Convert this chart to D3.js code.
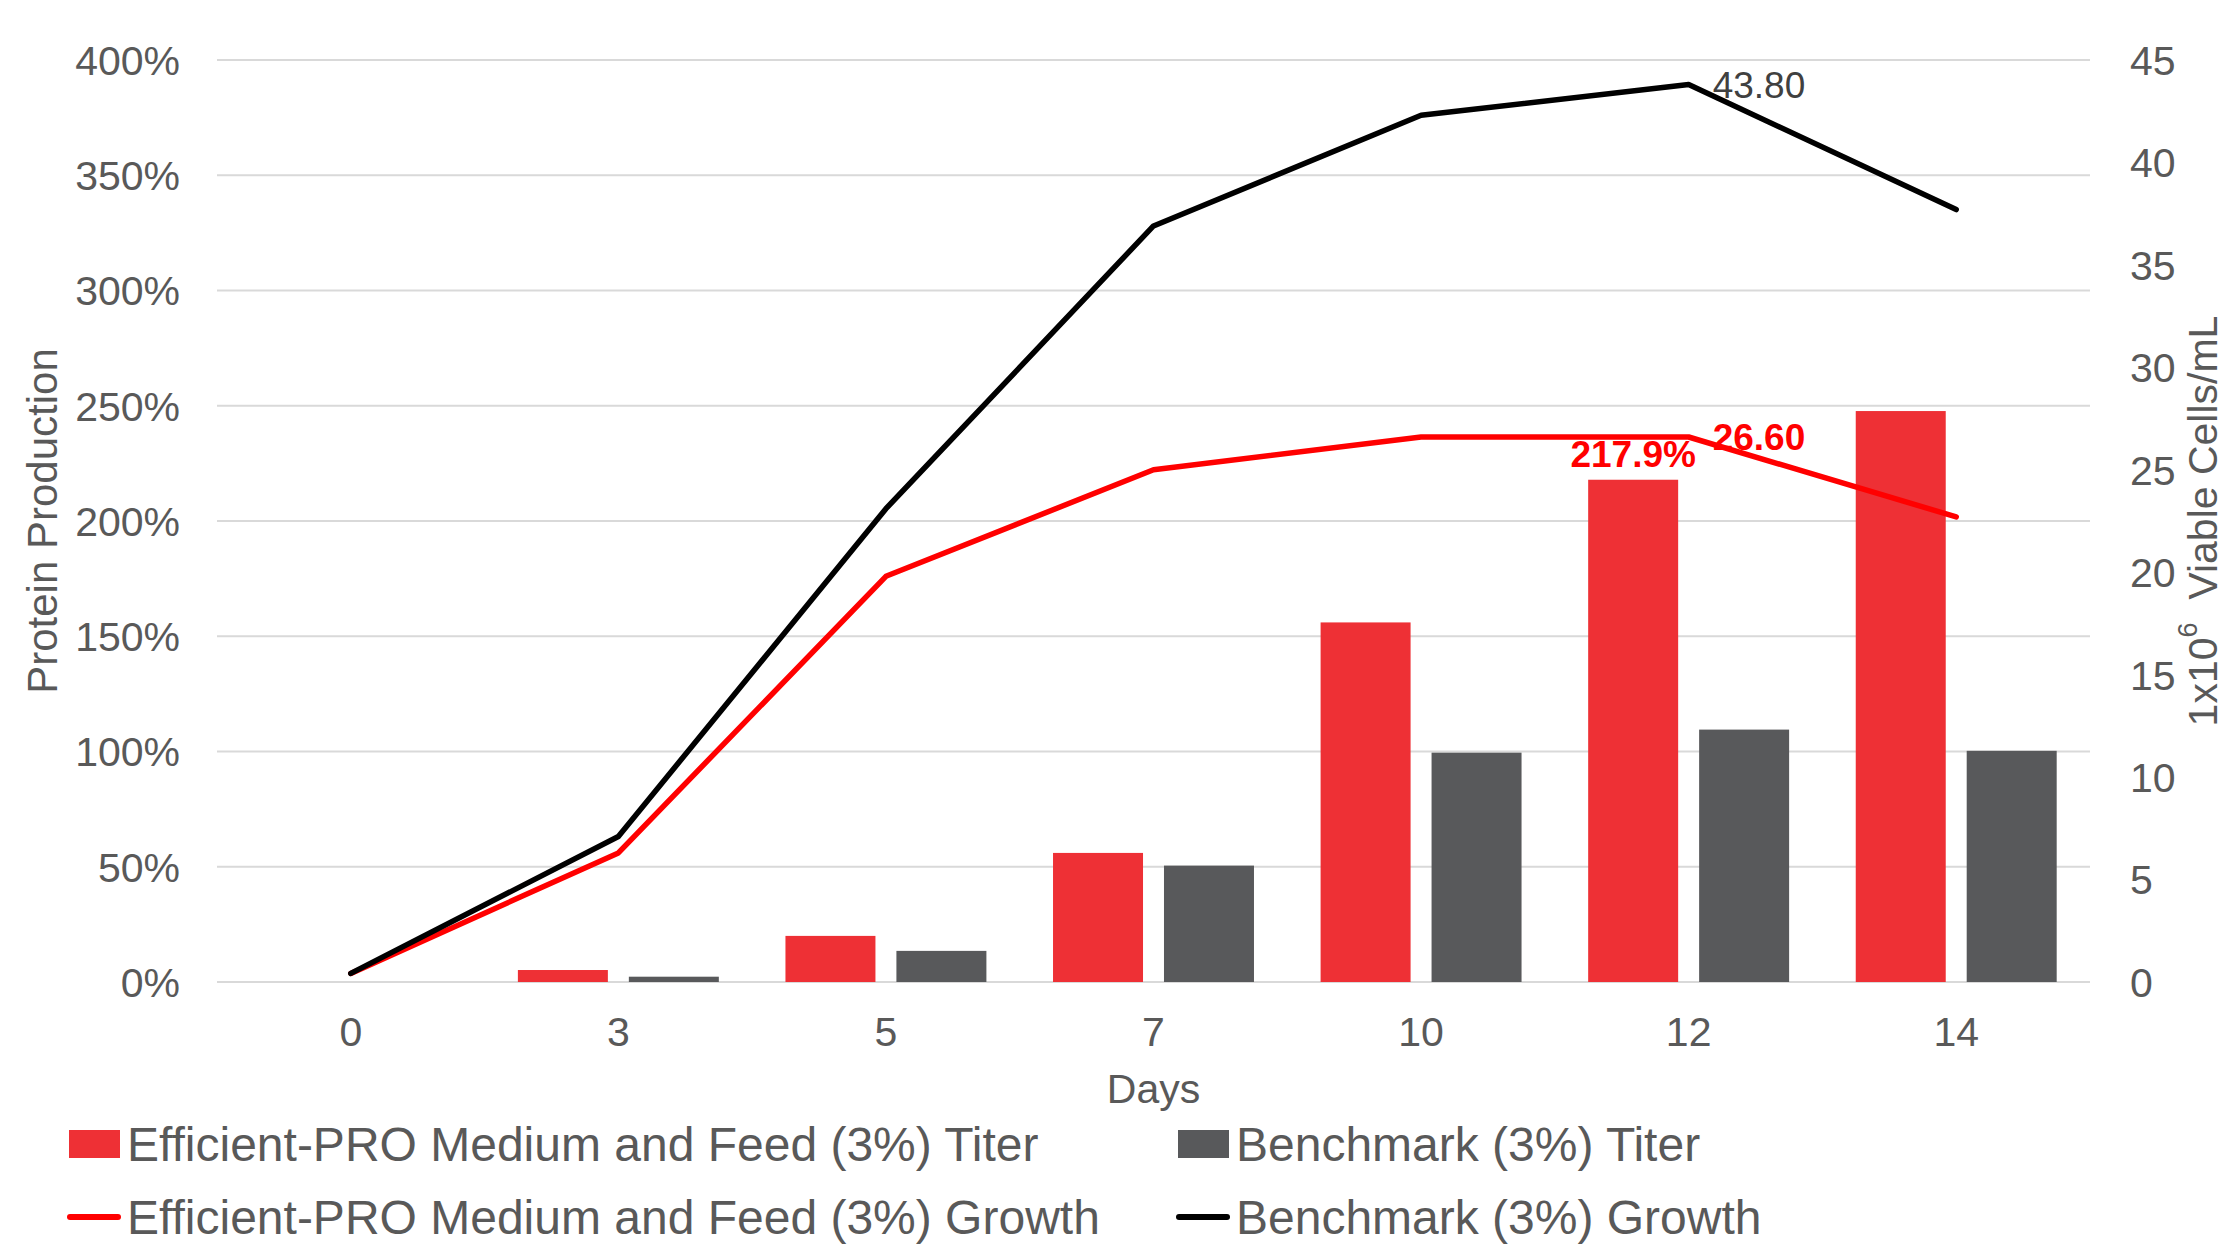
<!DOCTYPE html>
<html>
<head>
<meta charset="utf-8">
<script src="https://cdn.jsdelivr.net/npm/d3@7"></script>
<style>
  html, body { margin: 0; padding: 0; background: #fff; }
  svg text { font-family: "Liberation Sans", Arial, sans-serif; }
</style>
</head>
<body>
<svg id="chart" width="2226" height="1248"></svg>
<script>
// Culture days on the x axis
const days = ["0", "3", "5", "7", "10", "12", "14"];

// Protein titer, relative to benchmark (fraction, shown as %)
const titerEfficient = [null, 0.052, 0.20, 0.56, 1.56, 2.179, 2.477];
const titerBenchmark = [null, 0.023, 0.135, 0.505, 0.995, 1.095, 1.003];

// Viable cell density, 1x10^6 cells/mL
const growthEfficient = [0.42, 6.3, 19.8, 25.0, 26.6, 26.6, 22.7];
const growthBenchmark = [0.42, 7.1, 23.1, 36.9, 42.3, 43.8, 37.7];

// Axis ticks
const leftTicks = [0, 0.5, 1, 1.5, 2, 2.5, 3, 3.5, 4];
const rightTicks = [0, 5, 10, 15, 20, 25, 30, 35, 40, 45];

// Series names
const seriesNames = {
  titerEff: "Efficient-PRO Medium and Feed (3%) Titer",
  titerBench: "Benchmark (3%) Titer",
  growthEff: "Efficient-PRO Medium and Feed (3%) Growth",
  growthBench: "Benchmark (3%) Growth"
};

const colors = {
  barRed: "#EE3035",
  barGray: "#58595B",
  lineRed: "#FF0000",
  lineBlack: "#000000",
  grid: "#D9D9D9",
  text: "#595959",
  label: "#404040"
};

const plot = { left: 217, right: 2090, top: 60, bottom: 982 };
const svg = d3.select("#chart");

const x = d3.scaleBand().domain(days).range([plot.left, plot.right]).padding(0);
const yLeft = d3.scaleLinear().domain([0, 4]).range([plot.bottom, plot.top]);
const yRight = d3.scaleLinear().domain([0, 45]).range([plot.bottom, plot.top]);

// Two bars per day, centred in each band
const groupWidth = x.bandwidth() * 0.751;
const xInner = d3.scaleBand()
  .domain(["eff", "bench"])
  .range([-groupWidth / 2, groupWidth / 2])
  .paddingInner(0.189)
  .paddingOuter(0);

// Horizontal gridlines
svg.append("g")
  .selectAll("line")
  .data(leftTicks)
  .join("line")
  .attr("x1", plot.left)
  .attr("x2", plot.right)
  .attr("y1", d => yLeft(d))
  .attr("y2", d => yLeft(d))
  .attr("stroke", colors.grid)
  .attr("stroke-width", 2);

// Left axis
const leftAxis = svg.append("g")
  .attr("transform", `translate(${plot.left - 37},0)`)
  .call(d3.axisLeft(yLeft).tickValues(leftTicks).tickSize(0).tickPadding(0)
    .tickFormat(d => d3.format(".0%")(d)));
leftAxis.select(".domain").remove();
leftAxis.selectAll("text")
  .attr("fill", colors.text)
  .attr("font-size", 41)
  .attr("dy", "0.35em");

// Right axis
const rightAxis = svg.append("g")
  .attr("transform", `translate(${plot.right + 40},0)`)
  .call(d3.axisRight(yRight).tickValues(rightTicks).tickSize(0).tickPadding(0));
rightAxis.select(".domain").remove();
rightAxis.selectAll("text")
  .attr("fill", colors.text)
  .attr("font-size", 41)
  .attr("dy", "0.35em");

// Bottom axis (labels only)
const bottomAxis = svg.append("g")
  .attr("transform", `translate(0,${plot.bottom})`)
  .call(d3.axisBottom(x).tickSize(0).tickPadding(0));
bottomAxis.select(".domain").remove();
bottomAxis.selectAll("text")
  .attr("fill", colors.text)
  .attr("font-size", 41)
  .attr("y", 50)
  .attr("dy", "0.35em");

// Axis titles
svg.append("text")
  .attr("transform", `translate(42,${(plot.top + plot.bottom) / 2}) rotate(-90)`)
  .attr("text-anchor", "middle")
  .attr("dy", "0.35em")
  .attr("font-size", 42)
  .attr("fill", colors.text)
  .text("Protein Production");

const rTitle = svg.append("text")
  .attr("transform", `translate(2203,${(plot.top + plot.bottom) / 2}) rotate(-90)`)
  .attr("text-anchor", "middle")
  .attr("dy", "0.35em")
  .attr("font-size", 41)
  .attr("fill", colors.text);
rTitle.append("tspan").text("1x10");
rTitle.append("tspan").attr("font-size", 27).attr("dy", "-0.75em").text("6");
rTitle.append("tspan").attr("dy", "0.48em").text("\u00A0 Viable Cells/mL");

svg.append("text")
  .attr("x", (plot.left + plot.right) / 2)
  .attr("y", 1089)
  .attr("text-anchor", "middle")
  .attr("dy", "0.35em")
  .attr("font-size", 41)
  .attr("fill", colors.text)
  .text("Days");

// Titer bars
const barData = [];
days.forEach((d, i) => {
  if (titerEfficient[i] != null) barData.push({ day: d, key: "eff", v: titerEfficient[i], color: colors.barRed });
  if (titerBenchmark[i] != null) barData.push({ day: d, key: "bench", v: titerBenchmark[i], color: colors.barGray });
});

svg.append("g")
  .selectAll("rect")
  .data(barData)
  .join("rect")
  .attr("x", d => x(d.day) + x.bandwidth() / 2 + xInner(d.key))
  .attr("width", xInner.bandwidth())
  .attr("y", d => yLeft(d.v))
  .attr("height", d => yLeft(0) - yLeft(d.v))
  .attr("fill", d => d.color);

// Growth lines
const line = d3.line()
  .x((d, i) => x(days[i]) + x.bandwidth() / 2)
  .y(d => yRight(d));

svg.append("path")
  .datum(growthEfficient)
  .attr("d", line)
  .attr("fill", "none")
  .attr("stroke", colors.lineRed)
  .attr("stroke-width", 5.5)
  .attr("stroke-linejoin", "round")
  .attr("stroke-linecap", "round");

svg.append("path")
  .datum(growthBenchmark)
  .attr("d", line)
  .attr("fill", "none")
  .attr("stroke", colors.lineBlack)
  .attr("stroke-width", 5.5)
  .attr("stroke-linejoin", "round")
  .attr("stroke-linecap", "round");

// Data labels
const i12 = days.indexOf("12");
const cx12 = x("12") + x.bandwidth() / 2;

svg.append("text")
  .attr("x", cx12 + 24)
  .attr("y", yRight(growthBenchmark[i12]))
  .attr("dy", "0.35em")
  .attr("font-size", 37)
  .attr("fill", colors.label)
  .text(d3.format(".2f")(growthBenchmark[i12]));

svg.append("text")
  .attr("x", cx12 + 24)
  .attr("y", yRight(growthEfficient[i12]))
  .attr("dy", "0.35em")
  .attr("font-size", 37)
  .attr("font-weight", "bold")
  .attr("fill", colors.lineRed)
  .text(d3.format(".2f")(growthEfficient[i12]));

svg.append("text")
  .attr("x", cx12 + xInner("eff") + xInner.bandwidth() / 2)
  .attr("y", yLeft(titerEfficient[i12]) - 13)
  .attr("text-anchor", "middle")
  .attr("font-size", 37)
  .attr("font-weight", "bold")
  .attr("fill", colors.lineRed)
  .text(d3.format(".1%")(titerEfficient[i12]));

// Legend
const legendItems = [
  { name: seriesNames.titerEff, type: "rect", color: colors.barRed, x: 69, y: 1144 },
  { name: seriesNames.titerBench, type: "rect", color: colors.barGray, x: 1178, y: 1144 },
  { name: seriesNames.growthEff, type: "line", color: colors.lineRed, x: 69, y: 1217 },
  { name: seriesNames.growthBench, type: "line", color: colors.lineBlack, x: 1178, y: 1217 }
];

const legend = svg.append("g")
  .selectAll("g")
  .data(legendItems)
  .join("g")
  .attr("transform", d => `translate(${d.x},${d.y})`);

legend.filter(d => d.type === "rect")
  .append("rect")
  .attr("x", 0)
  .attr("y", -14)
  .attr("width", 51)
  .attr("height", 28)
  .attr("fill", d => d.color);

legend.filter(d => d.type === "line")
  .append("line")
  .attr("x1", 1)
  .attr("x2", 49)
  .attr("y1", 0)
  .attr("y2", 0)
  .attr("stroke", d => d.color)
  .attr("stroke-width", 6)
  .attr("stroke-linecap", "round");

legend.append("text")
  .attr("x", 58)
  .attr("y", 0)
  .attr("dy", "0.35em")
  .attr("font-size", 48)
  .attr("fill", colors.text)
  .text(d => d.name);
</script>
</body>
</html>
